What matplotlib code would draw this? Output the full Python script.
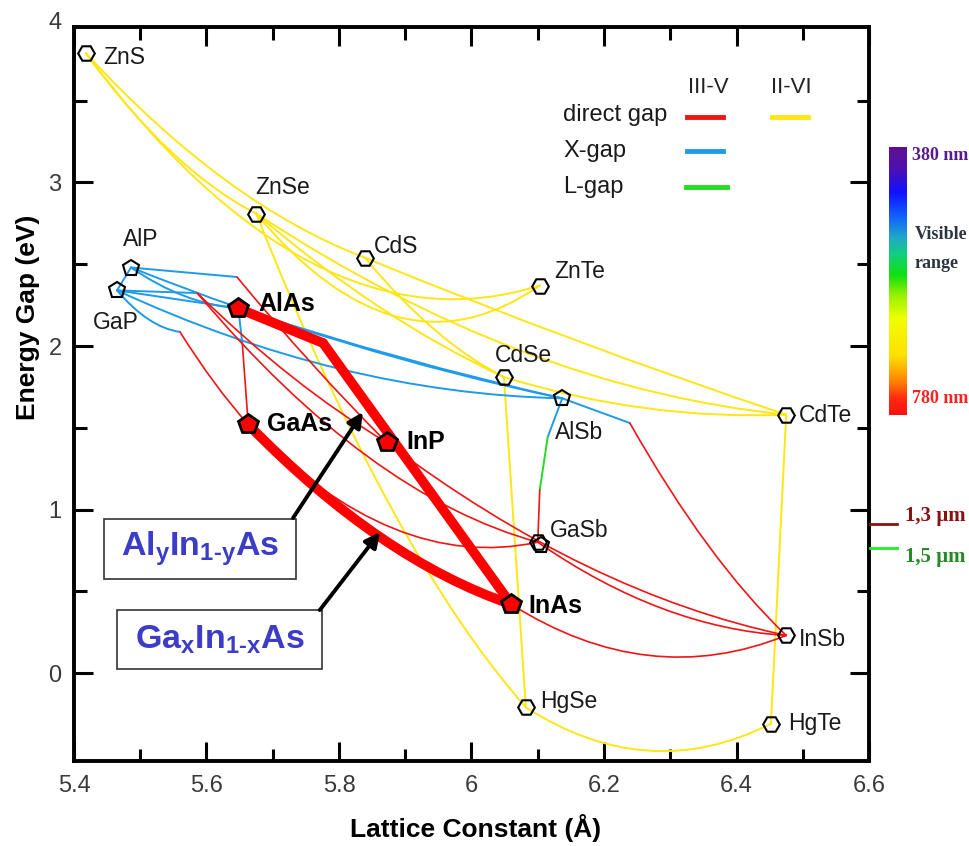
import matplotlib
matplotlib.use('Agg')
import matplotlib.pyplot as plt
from matplotlib.path import Path
from matplotlib.patches import PathPatch, Rectangle
from matplotlib.colors import LinearSegmentedColormap
import numpy as np

# compounds: lattice constant (A) and energy gap (eV)
names = ['ZnS', 'ZnSe', 'AlP', 'GaP', 'AlAs', 'CdS', 'ZnTe', 'CdSe', 'AlSb',
         'CdTe', 'GaAs', 'InP', 'GaSb', 'InAs', 'InSb', 'HgSe', 'HgTe']
lattice = [5.418, 5.675, 5.486, 5.465, 5.648, 5.839, 6.103, 6.049, 6.137,
           6.475, 5.663, 5.872, 6.100, 6.060, 6.475, 6.082, 6.452]
gap = [3.79, 2.81, 2.48, 2.34, 2.23, 2.54, 2.37, 1.81, 1.68,
       1.58, 1.52, 1.41, 0.80, 0.42, 0.23, -0.21, -0.31]
marker_kind = ['hex', 'hex', 'pent', 'pent', 'red', 'hex', 'hex', 'hex', 'pent',
               'hex', 'red', 'red', 'both', 'red', 'hex', 'hex', 'hex']

# points where an alloy line changes gap type
kink_names = ['k_alp_inp', 'k_gap_inp', 'k_gap_gaas', 'k_alas_gaas',
              'k_alas_inas', 'k_alsb_insb', 'k_alsb_x', 'k_alsb_l']
kink_lattice = [5.646, 5.586, 5.560, 5.654, 5.776, 6.239, 6.115, 6.103]
kink_gap = [2.422, 2.324, 2.086, 2.018, 2.018, 1.529, 1.443, 1.119]

# alloy lines: (start, end, bowing in eV)
ii_vi_lines = [('ZnS', 'ZnSe', 0.45), ('ZnS', 'CdS', 0.6), ('ZnS', 'ZnTe', 2.3),
               ('ZnSe', 'ZnTe', 1.65), ('ZnSe', 'CdTe', 0.9), ('ZnSe', 'HgSe', 1.15),
               ('ZnSe', 'CdSe', 0.3), ('CdS', 'CdSe', 0.3), ('CdS', 'CdTe', 0.1),
               ('CdSe', 'CdTe', 0.3), ('CdSe', 'HgSe', 0.0), ('HgSe', 'HgTe', 0.86),
               ('CdTe', 'HgTe', 0.0)]
x_gap_lines = [('AlP', 'GaP', 0.0), ('AlP', 'AlAs', 0.2), ('GaP', 'AlAs', 0.0),
               ('AlP', 'k_alp_inp', 0.0), ('GaP', 'k_gap_inp', 0.0),
               ('GaP', 'k_gap_gaas', 0.2), ('AlAs', 'k_alas_gaas', 0.0),
               ('AlAs', 'AlSb', 0.1), ('AlP', 'AlSb', 0.25), ('GaP', 'AlSb', 0.6),
               ('AlSb', 'k_alsb_insb', 0.0), ('AlSb', 'k_alsb_x', 0.0)]
l_gap_lines = [('k_alsb_x', 'k_alsb_l', 0.0)]
direct_lines = [('k_alp_inp', 'InP', 0.1), ('k_gap_inp', 'InP', 0.22),
                ('k_gap_gaas', 'GaAs', 0.1), ('k_alas_gaas', 'GaAs', 0.0),
                ('k_alsb_insb', 'InSb', 0.39), ('k_alsb_l', 'GaSb', 0.0),
                ('GaAs', 'GaSb', 1.1), ('GaSb', 'InSb', 0.48), ('InAs', 'InSb', 0.87),
                ('InP', 'InSb', 0.66), ('k_gap_inp', 'GaSb', 0.95), ('GaAs', 'InAs', 0.45)]
highlight_lines = [('AlAs', 'k_alas_inas', 0.0), ('k_alas_inas', 'InAs', 0.0),
                   ('GaAs', 'InAs', 0.55)]

# label offsets from the marker, pixels
label_dx = [17, -1, -8, -24, 20, 9, 15, -9, -7, 13, 19, 20, 12, 17, 13, 14, 17]
label_dy = [-4, 26, 28, -32, 4, 11, 14, 22, -34, -1, 0, 0, 12, -2, -4, 6, 0]

plt.rcParams['font.family'] = ['Liberation Sans', 'DejaVu Sans']
plt.rcParams['mathtext.fontset'] = 'custom'
plt.rcParams['mathtext.bf'] = 'Liberation Sans:bold'
plt.rcParams['mathtext.rm'] = 'Liberation Sans'
plt.rcParams['mathtext.it'] = 'Liberation Sans:italic'

W, H = 969, 846
fig = plt.figure(figsize=(W / 100, H / 100), dpi=100)
ax = fig.add_axes([74 / W, 1 - 761 / H, 795 / W, 734 / H])
ax.set_xlim(5.4, 6.6)
ax.set_ylim(-0.538, 3.951)

pts = {n: (a, e) for n, a, e in zip(names, lattice, gap)}
pts.update({n: (a, e) for n, a, e in zip(kink_names, kink_lattice, kink_gap)})

YELLOW = '#ffe614'
BLUE = '#1e9be8'
GREEN = '#22dd22'
RED = '#f01414'


def draw_alloy(a, b, bow, color, lw, z=2):
    x0, y0 = pts[a]
    x1, y1 = pts[b]
    # quadratic bowing = bezier with control point pushed down by bow/2
    c = ((x0 + x1) / 2, (y0 + y1) / 2 - bow / 2)
    path = Path([(x0, y0), c, (x1, y1)], [Path.MOVETO, Path.CURVE3, Path.CURVE3])
    ax.add_patch(PathPatch(path, fc='none', ec=color, lw=lw, capstyle='round', zorder=z))


for a, b, bow in ii_vi_lines:
    draw_alloy(a, b, bow, YELLOW, 1.4)
for a, b, bow in x_gap_lines:
    draw_alloy(a, b, bow, BLUE, 1.4)
for a, b, bow in l_gap_lines:
    draw_alloy(a, b, bow, GREEN, 1.4)
for a, b, bow in direct_lines:
    draw_alloy(a, b, bow, RED, 1.2)
for a, b, bow in highlight_lines:
    draw_alloy(a, b, bow, '#ff0000', 7, z=3)

# markers
for n, a, e, k, dx, dy in zip(names, lattice, gap, marker_kind, label_dx, label_dy):
    if k == 'red':
        ax.plot(a, e, marker='p', ms=15, mfc='#ff0000', mec='black', mew=2, ls='none', zorder=6)
        ax.annotate(n, (a, e), xytext=(dx, dy), textcoords='offset pixels',
                    fontsize=18, fontweight='bold', color='black', va='center', ha='left', zorder=7)
    else:
        if k in ('hex', 'both'):
            ax.plot(a, e, marker='H', ms=12, mfc='none', mec='black', mew=1.5, ls='none', zorder=6)
        if k in ('pent', 'both'):
            off = 0.015 if k == 'both' else 0
            ax.plot(a + off * 0.3, e - off, marker='p', ms=12, mfc='none', mec='black', mew=1.5,
                    ls='none', zorder=6)
        ax.annotate(n, (a, e), xytext=(dx, dy), textcoords='offset pixels',
                    fontsize=16.5, color='#1a1a1a', va='center', ha='left', zorder=7)

# composition boxes and arrows
ax.add_patch(Rectangle((5.445, 0.575), 0.290, 0.367, fc='white', ec='#333333', lw=1.2, zorder=8))
ax.text(5.590, 0.758, '$\\mathbf{Al_{y}In_{1\u2010y}As}$', fontsize=24.5, color='#3c3cc8',
        ha='center', va='center', zorder=9)
ax.add_patch(Rectangle((5.465, 0.024), 0.309, 0.361, fc='white', ec='#333333', lw=1.2, zorder=8))
ax.text(5.6195, 0.205, '$\\mathbf{Ga_{x}In_{1\u2010x}As}$', fontsize=24.5, color='#3c3cc8',
        ha='center', va='center', zorder=9)
arrow = dict(arrowstyle='-|>,head_length=0.9,head_width=0.45', lw=2.8, color='black',
             shrinkA=0, shrinkB=0)
ax.annotate('', xy=(5.836, 1.596), xytext=(5.7306, 0.948), arrowprops=arrow, zorder=9)
ax.annotate('', xy=(5.862, 0.862), xytext=(5.771, 0.385), arrowprops=arrow, zorder=9)

# legend block
ax.text(0.7975, 0.918, 'III-V', transform=ax.transAxes, fontsize=16, ha='center', va='center', color='#222')
ax.text(0.9019, 0.918, 'II-VI', transform=ax.transAxes, fontsize=16, ha='center', va='center', color='#222')
for lab, yy in zip(['direct gap', 'X-gap', 'L-gap'], [0.8801, 0.8311, 0.782]):
    ax.text(0.6151, yy, lab, transform=ax.transAxes, fontsize=17, ha='left', va='center', color='#1a1a1a')
ax.plot([0.7711, 0.8164], [0.8774, 0.8774], transform=ax.transAxes, color=RED, lw=3.5)
ax.plot([0.878, 0.9233], [0.8774, 0.8774], transform=ax.transAxes, color=YELLOW, lw=3.5)
ax.plot([0.7711, 0.8164], [0.8311, 0.8311], transform=ax.transAxes, color=BLUE, lw=3.5)
ax.plot([0.7698, 0.8214], [0.782, 0.782], transform=ax.transAxes, color=GREEN, lw=3.5)

# axes styling
for s in ax.spines.values():
    s.set_linewidth(2.8)
ax.set_xticks([5.4, 5.6, 5.8, 6.0, 6.2, 6.4, 6.6])
ax.set_xticklabels(['5.4', '5.6', '5.8', '6', '6.2', '6.4', '6.6'])
ax.set_xticks([5.5, 5.7, 5.9, 6.1, 6.3, 6.5], minor=True)
ax.set_yticks([0, 1, 2, 3])
ax.set_yticklabels(['0', '1', '2', '3'])
ax.set_yticks([0.5, 1.5, 2.5, 3.5], minor=True)
ax.tick_params(which='both', direction='in', top=True, right=True, width=2.2,
               labelsize=17, labelcolor='#3a3a3a')
ax.tick_params(which='major', length=14)
ax.tick_params(which='minor', length=9)
ax.tick_params(axis='x', pad=10)
ax.tick_params(axis='y', pad=9)
ax.text(-0.015, 3.976, '4', transform=ax.get_yaxis_transform(), fontsize=17, color='#3a3a3a',
        ha='right', va='center', clip_on=False)

fig.text(476 / W, 1 - 828 / H, 'Lattice Constant (Å)', fontsize=19, fontweight='bold',
         ha='center', va='center')
fig.text(28 / W, 1 - 317 / H, 'Energy Gap (eV)', fontsize=19, fontweight='bold',
         ha='center', va='center', rotation=90)

# visible range bar
spec = LinearSegmentedColormap.from_list('vis', [
    (0.0, '#ff1010'), (0.06, '#ff2a10'), (0.13, '#ff8a00'), (0.22, '#ffe000'),
    (0.36, '#f0ff00'), (0.45, '#90f000'), (0.52, '#10e010'), (0.60, '#10d080'),
    (0.66, '#20a8c8'), (0.74, '#1060ff'), (0.83, '#1010ff'), (0.92, '#5010b0'),
    (1.0, '#601090')])
cax = fig.add_axes([889 / W, 1 - 415 / H, 18 / W, 268 / H])
cax.imshow(np.linspace(0, 1, 256)[:, None], cmap=spec, aspect='auto', origin='lower')
cax.axis('off')
serif = ['Liberation Serif', 'DejaVu Serif']
fig.text(912 / W, 1 - 155 / H, '380 nm', family=serif, fontsize=13, fontweight='bold',
         color='#5b1a8c', va='center')
fig.text(915 / W, 1 - 234 / H, 'Visible', family=serif, fontsize=13, fontweight='bold',
         color='#2b3540', va='center')
fig.text(915 / W, 1 - 264 / H, 'range', family=serif, fontsize=13, fontweight='bold',
         color='#2b3540', va='center')
fig.text(912 / W, 1 - 398 / H, '780 nm', family=serif, fontsize=13, fontweight='bold',
         color='#ff2020', va='center')

# telecom wavelengths
fig.add_artist(plt.Line2D([870 / W, 897 / W], [1 - 524 / H, 1 - 524 / H], color='#8b1010', lw=2))
fig.add_artist(plt.Line2D([870 / W, 897 / W], [1 - 548 / H, 1 - 548 / H], color='#22ee22', lw=2))
fig.text(905 / W, 1 - 516 / H, '1,3 µm', family=serif, fontsize=15, fontweight='bold',
         color='#8b1010', va='center')
fig.text(905 / W, 1 - 557 / H, '1,5 µm', family=serif, fontsize=15, fontweight='bold',
         color='#228b22', va='center')

fig.savefig('out.png', dpi=100)
